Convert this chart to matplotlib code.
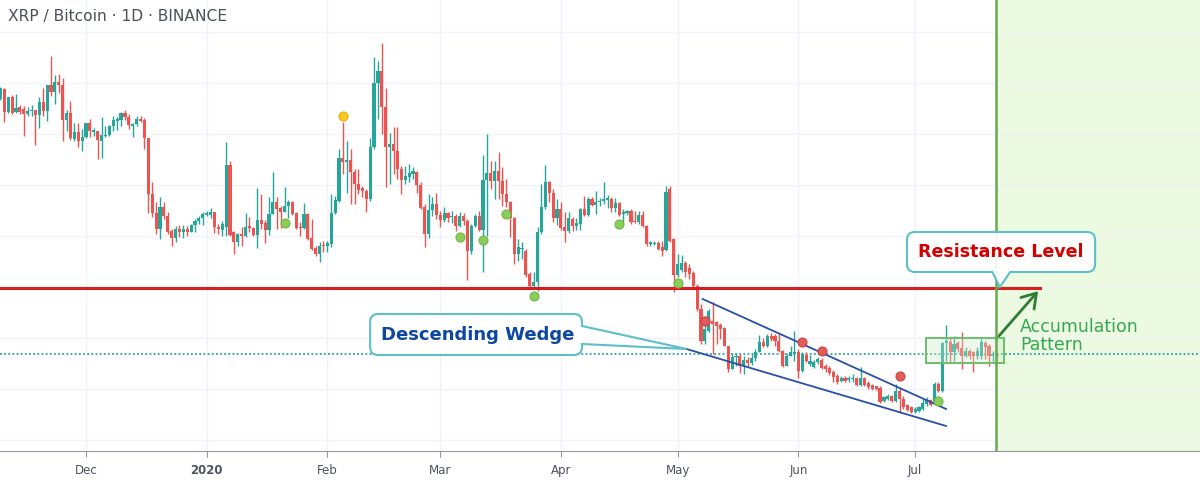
import matplotlib
matplotlib.use("Agg")
import matplotlib.pyplot as plt
import matplotlib.dates as mdates
import numpy as np
import pandas as pd
from matplotlib.path import Path
from matplotlib.patches import PathPatch, Rectangle, FancyArrowPatch

# XRP/BTC daily candles in satoshi (9 Nov 2019 .. 22 Jul 2020)
dates = pd.date_range("2019-11-09", "2020-07-22", freq="D")

opens_nov = [3140, 3180, 3088, 3148, 3088, 3108, 3100, 3080, 3092, 3096, 3076, 3128, 3092, 3196, 3168, 3208,
             3196, 3056, 3084, 2980, 3008, 2972]
highs_nov = [3188, 3184, 3148, 3156, 3160, 3116, 3112, 3108, 3116, 3096, 3148, 3184, 3196, 3312, 3236, 3240,
             3224, 3096, 3132, 3044, 3044, 3020]
lows_nov = [3136, 3048, 3084, 3080, 3084, 3080, 2992, 3072, 3072, 2956, 3024, 3072, 3052, 3152, 3120, 3164,
            2972, 3012, 2976, 2972, 2948, 2932]
closes_nov = [3184, 3088, 3148, 3084, 3104, 3088, 3080, 3092, 3096, 3076, 3128, 3092, 3196, 3168, 3208, 3196,
              3056, 3084, 2984, 3008, 2972, 2988]

opens_dec = [2988, 3044, 3008, 3012, 2972, 2992, 2996, 3032, 3052, 3056, 3084, 3068, 3032, 3040, 3060, 3056,
             2984, 2760, 2684, 2620, 2708, 2672, 2612, 2584, 2620, 2608, 2620, 2608, 2636, 2652, 2664]
highs_dec = [3044, 3060, 3024, 3012, 3068, 3032, 3036, 3072, 3068, 3088, 3096, 3080, 3044, 3072, 3072, 3064,
             2984, 2808, 2728, 2748, 2728, 2688, 2620, 2632, 2636, 2636, 2632, 2640, 2660, 2672, 2688]
lows_dec = [2984, 2988, 2992, 2900, 2904, 2988, 2992, 3012, 3016, 3032, 3056, 3020, 2988, 3032, 3048, 2940,
            2684, 2668, 2600, 2580, 2660, 2600, 2552, 2568, 2588, 2584, 2592, 2608, 2608, 2640, 2636]
closes_dec = [3044, 3012, 3016, 2976, 2996, 2996, 3032, 3056, 3060, 3084, 3068, 3036, 3040, 3060, 3052, 2984,
              2760, 2684, 2620, 2708, 2672, 2608, 2584, 2620, 2608, 2620, 2608, 2636, 2652, 2664, 2680]

opens_jan = [2676, 2676, 2688, 2628, 2616, 2628, 2876, 2608, 2568, 2600, 2592, 2632, 2624, 2596, 2656, 2644,
             2616, 2680, 2728, 2704, 2688, 2712, 2728, 2684, 2628, 2624, 2680, 2584, 2544, 2520, 2556]
highs_jan = [2692, 2704, 2688, 2640, 2652, 2968, 2892, 2612, 2604, 2628, 2684, 2668, 2628, 2784, 2760, 2656,
             2748, 2848, 2748, 2712, 2788, 2736, 2732, 2688, 2648, 2724, 2684, 2660, 2552, 2568, 2572]
lows_jan = [2672, 2664, 2604, 2600, 2592, 2592, 2592, 2520, 2552, 2552, 2588, 2608, 2592, 2544, 2620, 2564,
            2596, 2680, 2620, 2624, 2688, 2664, 2676, 2620, 2592, 2620, 2576, 2536, 2512, 2488, 2528]
closes_jan = [2684, 2688, 2628, 2620, 2640, 2876, 2596, 2568, 2600, 2592, 2628, 2624, 2596, 2656, 2640, 2616,
              2680, 2728, 2700, 2688, 2712, 2728, 2680, 2624, 2624, 2680, 2580, 2540, 2520, 2552, 2552]

opens_feb = [2552, 2560, 2684, 2732, 2904, 2888, 2896, 2848, 2800, 2784, 2772, 2740, 2948, 3204, 3252, 3108,
             2948, 2960, 2932, 2860, 2816, 2828, 2840, 2848, 2796, 2708, 2600, 2696, 2720]
highs_feb = [2572, 2760, 2752, 2940, 3048, 2972, 2940, 2860, 2860, 2792, 2780, 2984, 3308, 3292, 3364, 3184,
             3004, 3028, 3028, 2872, 2872, 2880, 2868, 2852, 2808, 2720, 2760, 2748, 2764]
lows_feb = [2528, 2548, 2680, 2728, 2840, 2764, 2720, 2720, 2760, 2748, 2688, 2732, 2940, 3060, 3000, 2788,
            2800, 2840, 2820, 2760, 2800, 2808, 2820, 2764, 2700, 2548, 2584, 2672, 2660]
closes_feb = [2564, 2684, 2736, 2904, 2888, 2896, 2848, 2800, 2776, 2772, 2740, 2948, 3204, 3252, 3108, 2948,
              2960, 2932, 2860, 2816, 2832, 2844, 2852, 2796, 2704, 2600, 2696, 2720, 2676]

opens_mar = [2676, 2656, 2684, 2668, 2672, 2632, 2672, 2652, 2532, 2632, 2672, 2616, 2816, 2844, 2812, 2852,
             2812, 2760, 2728, 2664, 2520, 2540, 2532, 2440, 2392, 2408, 2608, 2708, 2808, 2764, 2664]
highs_mar = [2692, 2708, 2688, 2692, 2680, 2688, 2684, 2660, 2640, 2680, 2692, 2916, 3000, 2892, 2892, 2928,
             2868, 2820, 2732, 2668, 2580, 2568, 2540, 2448, 2448, 2628, 2800, 2876, 2812, 2780, 2740]
lows_mar = [2628, 2648, 2648, 2644, 2612, 2628, 2636, 2416, 2520, 2628, 2612, 2448, 2592, 2780, 2740, 2740,
            2712, 2708, 2588, 2480, 2492, 2500, 2428, 2388, 2380, 2372, 2600, 2700, 2728, 2648, 2636]
closes_mar = [2656, 2684, 2664, 2672, 2632, 2672, 2652, 2532, 2632, 2672, 2616, 2816, 2844, 2812, 2852, 2812,
              2760, 2728, 2664, 2520, 2548, 2544, 2436, 2392, 2408, 2608, 2708, 2808, 2764, 2664, 2700]

opens_apr = [2700, 2628, 2612, 2660, 2632, 2640, 2700, 2676, 2740, 2716, 2728, 2732, 2736, 2740, 2704, 2724,
             2680, 2684, 2692, 2652, 2648, 2676, 2632, 2560, 2560, 2564, 2548, 2536, 2780, 2580]
highs_apr = [2728, 2688, 2688, 2668, 2664, 2704, 2752, 2748, 2748, 2772, 2744, 2808, 2756, 2748, 2744, 2728,
             2700, 2696, 2700, 2692, 2692, 2692, 2636, 2572, 2572, 2572, 2572, 2792, 2792, 2584]
lows_apr = [2616, 2568, 2604, 2612, 2616, 2616, 2672, 2672, 2712, 2680, 2712, 2720, 2704, 2688, 2688, 2672,
            2648, 2676, 2640, 2644, 2640, 2628, 2552, 2552, 2556, 2536, 2512, 2532, 2568, 2368]
closes_apr = [2624, 2612, 2664, 2632, 2644, 2700, 2676, 2740, 2716, 2728, 2732, 2740, 2744, 2704, 2724, 2676,
              2688, 2692, 2648, 2648, 2676, 2632, 2560, 2568, 2564, 2540, 2532, 2768, 2572, 2436]

opens_may = [2436, 2456, 2484, 2464, 2444, 2392, 2300, 2172, 2212, 2252, 2248, 2236, 2224, 2152, 2060, 2108,
             2112, 2072, 2096, 2084, 2104, 2128, 2168, 2152, 2192, 2192, 2172, 2132, 2072, 2112, 2120]
highs_may = [2520, 2516, 2492, 2480, 2452, 2400, 2320, 2272, 2300, 2328, 2252, 2244, 2228, 2152, 2124, 2124,
             2120, 2112, 2108, 2120, 2140, 2196, 2184, 2200, 2204, 2200, 2204, 2136, 2124, 2152, 2212]
lows_may = [2428, 2448, 2428, 2420, 2388, 2292, 2160, 2160, 2208, 2120, 2160, 2180, 2152, 2048, 2060, 2072,
            2044, 2040, 2072, 2076, 2092, 2128, 2148, 2148, 2172, 2152, 2128, 2068, 2072, 2112, 2092]
closes_may = [2480, 2484, 2448, 2440, 2392, 2300, 2172, 2220, 2292, 2240, 2232, 2220, 2152, 2060, 2108, 2112,
              2072, 2096, 2084, 2104, 2128, 2168, 2152, 2192, 2180, 2172, 2132, 2072, 2112, 2128, 2128]

opens_jun = [2128, 2052, 2116, 2080, 2068, 2088, 2096, 2072, 2064, 2048, 2032, 2012, 2024, 2016, 2020, 2024,
             1996, 2024, 2004, 1996, 1992, 1984, 1932, 1940, 1952, 1932, 1972, 1940, 1916, 1908]
highs_jun = [2140, 2128, 2128, 2116, 2096, 2108, 2104, 2080, 2072, 2056, 2040, 2032, 2032, 2032, 2040, 2028,
             2068, 2028, 2012, 2000, 1992, 1992, 1952, 1960, 1956, 2000, 1988, 1952, 1920, 1912]
lows_jun = [2024, 2048, 2088, 2072, 2064, 2080, 2060, 2048, 2036, 2008, 2000, 2008, 2008, 2008, 2008, 1992,
            1992, 1992, 1980, 1976, 1976, 1924, 1928, 1936, 1928, 1928, 1884, 1900, 1892, 1884]
closes_jun = [2052, 2120, 2092, 2092, 2088, 2100, 2064, 2060, 2044, 2028, 2008, 2024, 2012, 2024, 2024, 1996,
              2024, 1996, 1988, 1980, 1980, 1928, 1948, 1952, 1932, 1972, 1940, 1908, 1896, 1888]

opens_jul = [1888, 1892, 1900, 1920, 1936, 1924, 2000, 1972, 2164, 2168, 2128, 2164, 2144, 2112, 2132, 2128,
             2112, 2112, 2164, 2152, 2112, 2112]
highs_jul = [1908, 1912, 1940, 1948, 1940, 2008, 2008, 2168, 2236, 2188, 2192, 2172, 2208, 2148, 2140, 2132,
             2148, 2188, 2172, 2160, 2132, 2124]
lows_jul = [1884, 1888, 1896, 1912, 1912, 1920, 1968, 1968, 2092, 2088, 2092, 2128, 2060, 2108, 2100, 2048,
            2100, 2100, 2100, 2072, 2088, 2108]
closes_jul = [1900, 1908, 1924, 1940, 1916, 2000, 1972, 2164, 2172, 2128, 2160, 2140, 2112, 2132, 2112, 2112,
              2132, 2168, 2148, 2112, 2120, 2116]

opens = np.array(opens_nov + opens_dec + opens_jan + opens_feb + opens_mar + opens_apr + opens_may + opens_jun + opens_jul)
highs = np.array(highs_nov + highs_dec + highs_jan + highs_feb + highs_mar + highs_apr + highs_may + highs_jun + highs_jul)
lows = np.array(lows_nov + lows_dec + lows_jan + lows_feb + lows_mar + lows_apr + lows_may + lows_jun + lows_jul)
closes = np.array(closes_nov + closes_dec + closes_jan + closes_feb + closes_mar + closes_apr + closes_may + closes_jun + closes_jul)
assert len(opens) == len(highs) == len(lows) == len(closes) == len(dates), (len(opens), len(highs), len(lows), len(closes))

# signal dots (date, price)
yellow_dots = [("2020-02-05", 3072)]
green_dots = [("2020-01-21", 2644), ("2020-03-06", 2588), ("2020-03-12", 2576), ("2020-03-18", 2680),
              ("2020-03-25", 2352), ("2020-04-16", 2640), ("2020-05-01", 2404), ("2020-07-07", 1932)]
red_dots = [("2020-05-08", 2252), ("2020-06-02", 2168), ("2020-06-07", 2132), ("2020-06-27", 2032)]

resistance = 2384
support_dotted = 2120
month_ticks = ["2019-12-01", "2020-01-01", "2020-02-01", "2020-03-01", "2020-04-01",
               "2020-05-01", "2020-06-01", "2020-07-01"]
month_labels = ["Dec", "2020", "Feb", "Mar", "Apr", "May", "Jun", "Jul"]

UP, DOWN = "#26a69a", "#ef5350"
TEAL_EDGE = "#5dbfc8"


def t(s):
    return mdates.date2num(pd.Timestamp(s))


def callout(ax, x0, x1, y0, y1, rx, ry, tip, base, side):
    M, L, C = Path.MOVETO, Path.LINETO, Path.CURVE3
    v, c = [(x0 + rx, y0)], [M]
    if side == "bottom":
        v += [(base[0], y0), tip, (base[1], y0)]; c += [L] * 3
    v += [(x1 - rx, y0), (x1, y0), (x1, y0 + ry)]; c += [L, C, C]
    if side == "right":
        v += [(x1, base[0]), tip, (x1, base[1])]; c += [L] * 3
    v += [(x1, y1 - ry), (x1, y1), (x1 - rx, y1)]; c += [L, C, C]
    v += [(x0 + rx, y1), (x0, y1), (x0, y1 - ry)]; c += [L, C, C]
    v += [(x0, y0 + ry), (x0, y0), (x0 + rx, y0)]; c += [L, C, C]
    v.append((0, 0)); c.append(Path.CLOSEPOLY)
    ax.add_patch(PathPatch(Path(v, c), fc=(1, 1, 1, 0.92), ec=TEAL_EDGE, lw=1.5, zorder=7))


fig = plt.figure(figsize=(12, 4.81), dpi=100)
ax = fig.add_axes([0, 29 / 481, 1, 452 / 481])

x = mdates.date2num(dates)
xmin, xmax = t("2019-12-01") - 22.1, t("2020-07-01") + 73.2
ax.set_xlim(xmin, xmax)
ax.set_ylim(1732, 3540)

# grid
ax.set_yticks(np.arange(1776, 3500, 204))
ax.set_xticks([t(s) for s in month_ticks])
ax.set_xticklabels(month_labels)
ax.grid(color="#f0f3fa", lw=1, zorder=0.6)
ax.set_axisbelow(True)
for lab in ax.get_xticklabels():
    if lab.get_text() == "2020":
        lab.set_fontweight("bold")
ax.tick_params(axis="y", left=False, labelleft=False)
ax.tick_params(axis="x", length=4, color="#9598a1", labelsize=8.5, labelcolor="#50535e", pad=5)
for side in ["top", "right", "left"]:
    ax.spines[side].set_visible(False)
ax.spines["bottom"].set_color("#9598a1")

# future zone
line_x = t("2020-07-21 19:00")
ax.axvspan(line_x, xmax, color="#ebfae1", zorder=0.5, lw=0)
ax.axvline(line_x, color="#6aa84f", lw=1.8, zorder=5)

# candles
colors = np.where(closes >= opens, UP, DOWN)
ax.vlines(x, lows, highs, colors=colors, lw=1.0, zorder=3)
body = np.maximum(np.abs(closes - opens), 4)
ax.bar(x, body, bottom=np.minimum(opens, closes), width=0.8, color=colors, lw=0, zorder=3.1)

# levels
ax.plot([xmin, t("2020-08-02 02:00")], [resistance, resistance], color="#d81e1e", lw=2.2, zorder=4)
ax.axhline(support_dotted, color="#26a69a", lw=1.3, ls=(0, (1, 1.3)), zorder=2)

# wedge
ax.plot([t("2020-05-07 10:00"), t("2020-07-08 23:00")], [2340, 1900], color="#2850a8", lw=1.3, zorder=4)
ax.plot([t("2020-05-03 07:00"), t("2020-07-08 23:00")], [2140, 1832], color="#2850a8", lw=1.3, zorder=4)

# accumulation box + arrow
ax.add_patch(Rectangle((t("2020-07-03 20:00"), 2084), t("2020-07-23 21:00") - t("2020-07-03 20:00"), 100,
                       fc=(0.80, 0.92, 0.78, 0.35), ec="#6cbf6c", lw=1.4, zorder=4))
ax.add_patch(FancyArrowPatch((t("2020-07-22 02:00"), 2184), (t("2020-08-02 02:00"), 2380),
                             arrowstyle="->,head_length=0.7,head_width=0.45", mutation_scale=14,
                             color="#2e7d32", lw=2, zorder=6))
ax.text(t("2020-07-28"), 2196, "Accumulation\nPattern", color="#36a852", fontsize=12.5,
        ha="left", va="center", linespacing=0.95, zorder=8)

# dots
for pts, fc, ec in [(yellow_dots, "#f8c924", "#e6b400"), (green_dots, "#8bcd5b", "#70b545"),
                    (red_dots, "#e25b58", "#cc4444")]:
    ax.scatter([t(d) for d, _ in pts], [p for _, p in pts], s=42, c=fc, edgecolors=ec, lw=0.8, zorder=6)

# callouts
rx, ry = 2.06, 32
callout(ax, t("2020-02-12"), t("2020-04-06 10:00"), 2116, 2280, rx, ry,
        (t("2020-05-03 07:00"), 2140), (2160, 2232), "right")
ax.text(t("2020-03-10 12:00"), 2200, "Descending Wedge", color="#0d47a1", fontsize=13, fontweight="bold",
        ha="center", va="center", zorder=8)
callout(ax, t("2020-06-28 22:00"), t("2020-08-16 06:00"), 2448, 2608, rx, ry,
        (t("2020-07-22 19:00"), 2388), (t("2020-07-20 20:00"), t("2020-07-25 10:00")), "bottom")
ax.text(t("2020-07-23 02:00"), 2532, "Resistance Level", color="#d50000", fontsize=12.6, fontweight="bold",
        ha="center", va="center", zorder=8)

fig.text(8 / 1200, 1 - 17 / 481, "XRP / Bitcoin · 1D · BINANCE", color="#4c505b", fontsize=11.2,
         ha="left", va="center")

fig.savefig("out.png", dpi=100, facecolor="white")
